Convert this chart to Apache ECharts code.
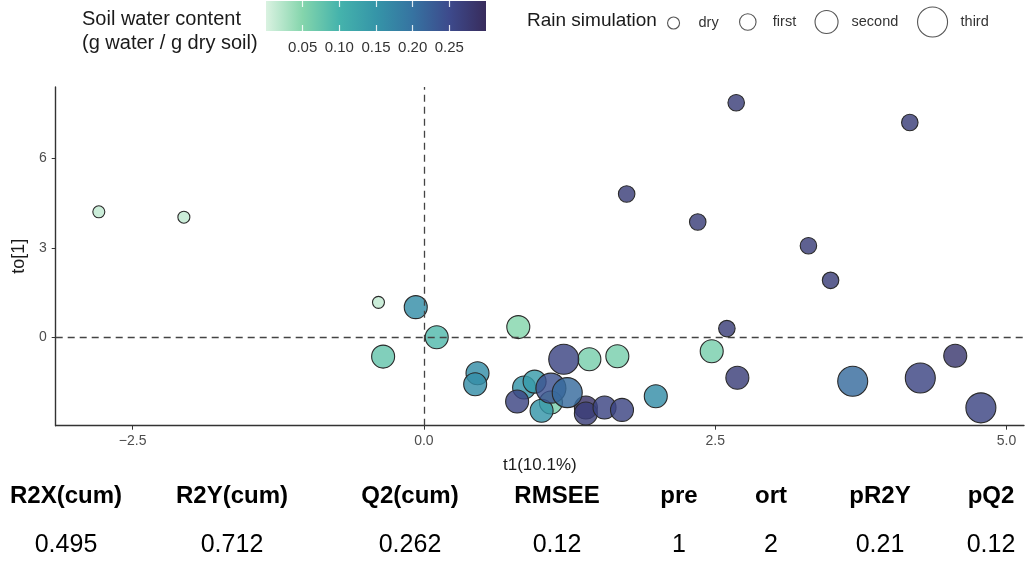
<!DOCTYPE html>
<html><head><meta charset="utf-8">
<script src="https://cdn.jsdelivr.net/npm/echarts@6/dist/echarts.min.js"></script>
<style>html,body{margin:0;padding:0;background:#fff}#c{width:1026px;height:565px}</style>
</head><body><div id="c"></div>
<script>
// ---- data ----
const rainLevels = ['dry', 'first', 'second', 'third'];
const t1  = [-2.79,-2.06,-0.39, 2.68,4.17,1.74,2.35,3.30,3.49,2.60, -0.07,0.11,-0.35,0.81,0.46,0.44,1.42,1.66,2.47,2.69,1.99,0.86,0.95,0.80,1.09,1.01,1.39,1.39,1.55,1.70,4.56, 1.20,1.09,1.23,3.68,4.26,4.78];
const to1 = [4.21,4.03,1.17, 7.87,7.21,4.81,3.87,3.07,1.91,0.29, 1.01,0.00,-0.65,0.34,-1.21,-1.58,-0.74,-0.64,-0.47,-1.36,-1.98,-1.69,-1.49,-2.16,-2.19,-2.47,-2.36,-2.56,-2.36,-2.44,-0.62, -0.74,-1.71,-1.86,-1.48,-1.37,-2.37];
const swc = [0.015,0.015,0.015, 0.27,0.27,0.27,0.27,0.27,0.27,0.27, 0.16,0.09,0.075,0.05,0.16,0.16,0.06,0.06,0.06,0.27,0.16,0.15,0.14,0.26,0.06,0.15,0.29,0.27,0.26,0.26,0.28, 0.26,0.24,0.21,0.21,0.26,0.26];
const rain = ['dry','dry','dry','first','first','first','first','first','first','first',
  'second','second','second','second','second','second','second','second','second','second','second','second','second','second','second','second','second','second','second','second','second',
  'third','third','third','third','third','third'];
const xTicks = [-2.5, 0, 2.5, 5];
const yTicks = [0, 3, 6];
const colorbarTicks = [0.05, 0.10, 0.15, 0.20, 0.25];
const statNames  = ['R2X(cum)','R2Y(cum)','Q2(cum)','RMSEE','pre','ort','pR2Y','pQ2'];
const statValues = ['0.495','0.712','0.262','0.12','1','2','0.21','0.12'];

// ---- style / layout ----
const swcColors = ['#DAF2E1','#84D5AC','#45B3AC','#3595A8','#3673A1','#3D4A8C','#382C5C'];
const POINT_ALPHA = 0.82;
function rgba(hex, a) {
  const n = parseInt(hex.slice(1), 16);
  return 'rgba(' + ((n >> 16) & 255) + ',' + ((n >> 8) & 255) + ',' + (n & 255) + ',' + a + ')';
}
const sizeOf = {dry:12, first:16.5, second:23, third:30};
const legendLayout = {dry:{c:687,w:40}, first:{c:759,w:40}, second:{c:834.5,w:40}, third:{c:940,w:46}};
const statX = [66, 232, 410, 557, 679, 771, 880, 991];
const FONT = '"Liberation Sans", Arial, sans-serif';

const chart = echarts.init(document.getElementById('c'), null, {renderer:'canvas'});

const series = rainLevels.map(r => ({
  type: 'scatter', name: r, xAxisIndex: 0, yAxisIndex: 0,
  symbolSize: sizeOf[r],
  data: t1.map((x, i) => [x, to1[i], swc[i], rain[i]]).filter(d => d[3] === r),
  itemStyle: {borderColor: '#2a2a2a', borderWidth: 1.1, opacity: 1},
  z: 3
}));
series.push({
  type: 'scatter', name: 'ref', xAxisIndex: 0, yAxisIndex: 0, data: [], z: 1, silent: true,
  markLine: {
    silent: true, symbol: ['none','none'], label: {show:false},
    lineStyle: {type: [7,5], color: '#444', width: 1.3},
    data: [{xAxis: 0}, {yAxis: 0}]
  }
});

const legends = rainLevels.map(r => {
  const L = legendLayout[r], h = sizeOf[r];
  return {
    data: [{name: r, icon: 'circle'}],
    left: L.c - L.w/2 - 5, top: 21.5 - h/2 - 5,
    itemWidth: L.w, itemHeight: h, itemGap: 0, selectedMode: false,
    textStyle: {fontSize: 14.5, color: '#333', fontFamily: FONT},
    itemStyle: {color: '#fff', borderColor: '#555', borderWidth: 1.1, opacity: 1}
  };
});

const graphics = [];
statNames.forEach((s, i) => {
  graphics.push({type:'text', x: statX[i], y: 496, style:{text: s, align:'center', verticalAlign:'middle', font: 'bold 24px ' + FONT, fill:'#000'}});
  graphics.push({type:'text', x: statX[i], y: 545, style:{text: statValues[i], align:'center', verticalAlign:'middle', font: '25px ' + FONT, fill:'#000'}});
});

chart.setOption({
  animation: false,
  textStyle: {fontFamily: FONT},
  title: [
    {text: 'Soil water content\n(g water / g dry soil)', left: 82, top: 7, padding: 0,
     textStyle: {fontSize: 20, fontWeight: 'normal', color: '#1a1a1a', lineHeight: 24, fontFamily: FONT}},
    {text: 'Rain simulation', left: 527, top: 9, padding: 0,
     textStyle: {fontSize: 19, fontWeight: 'normal', color: '#1a1a1a', lineHeight: 24, fontFamily: FONT}}
  ],
  legend: legends,
  grid: [
    {left: 55.7, right: 2, top: 87, bottom: 139.3, containLabel: false},
    {left: 266, top: 1, width: 220, height: 30, show: true, borderWidth: 0,
     backgroundColor: {type:'linear', x:0, y:0, x2:1, y2:0,
       colorStops: swcColors.map((c, i) => ({offset: i/(swcColors.length-1), color: c}))}}
  ],
  visualMap: [{
    type: 'continuous', show: false, min: 0, max: 0.3, dimension: 2, seriesIndex: [0,1,2,3],
    inRange: {color: swcColors.map(c => rgba(c, POINT_ALPHA))}
  }],
  xAxis: [
    {gridIndex: 0, type: 'value', min: -3.16, max: 5.15,
     name: 't1(10.1%)', nameLocation: 'middle', nameGap: 31,
     nameTextStyle: {fontSize: 17, color: '#1a1a1a'},
     axisLine: {show: true, onZero: false, lineStyle: {color: '#333', width: 1.4}},
     axisTick: {show: true, length: 4, customValues: xTicks, lineStyle: {color: '#333'}},
     axisLabel: {customValues: xTicks, formatter: v => v.toFixed(1).replace('-', '\u2212'), fontSize: 14, color: '#4d4d4d', margin: 8},
     splitLine: {show: false}},
    {gridIndex: 1, type: 'value', min: 0, max: 0.3, position: 'bottom',
     axisLine: {show: false}, splitLine: {show: false},
     axisTick: {show: true, inside: true, length: 6, customValues: colorbarTicks, lineStyle: {color: 'rgba(255,255,255,0.85)', width: 1.2}},
     axisLabel: {customValues: colorbarTicks, formatter: v => v.toFixed(2), fontSize: 15, color: '#333', margin: 9}},
    {gridIndex: 1, type: 'value', min: 0, max: 0.3, position: 'top',
     axisLine: {show: false}, splitLine: {show: false}, axisLabel: {show: false},
     axisTick: {show: true, inside: true, length: 6, customValues: colorbarTicks, lineStyle: {color: 'rgba(255,255,255,0.85)', width: 1.2}}}
  ],
  yAxis: [
    {gridIndex: 0, type: 'value', min: -2.97, max: 8.40,
     name: 'to[1]', nameLocation: 'middle', nameGap: 26,
     nameTextStyle: {fontSize: 18, color: '#1a1a1a'},
     axisLine: {show: true, onZero: false, lineStyle: {color: '#333', width: 1.4}},
     axisTick: {show: true, length: 4, customValues: yTicks, lineStyle: {color: '#333'}},
     axisLabel: {customValues: yTicks, formatter: v => String(v), fontSize: 14, color: '#4d4d4d', margin: 9},
     splitLine: {show: false}},
    {gridIndex: 1, type: 'value', min: 0, max: 1, show: false}
  ],
  series: series,
  graphic: graphics
});
</script>
</body></html>
